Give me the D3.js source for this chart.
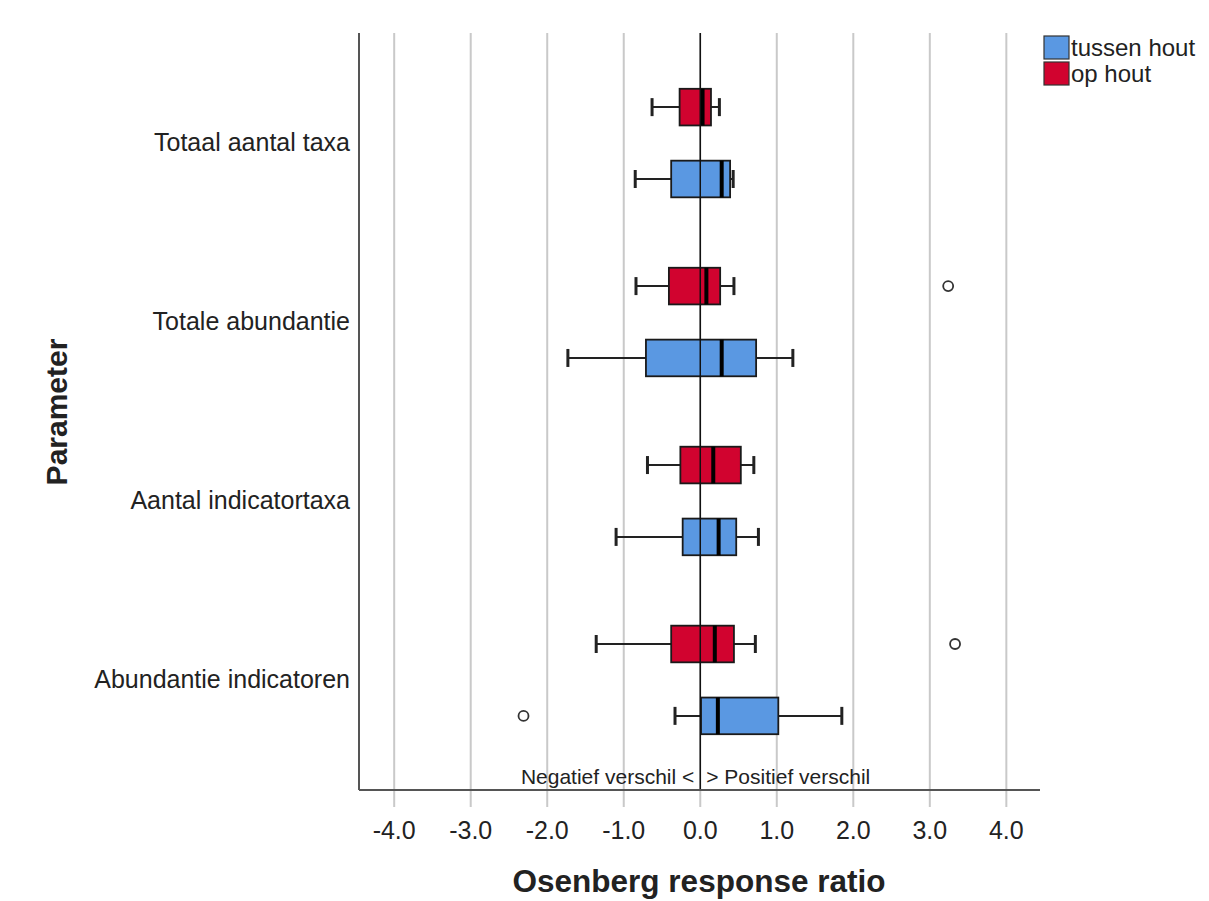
<!DOCTYPE html>
<html>
<head>
    <meta charset="utf-8">
    <title>Osenberg response ratio per parameter</title>
    <script src="https://cdn.jsdelivr.net/npm/d3@7/dist/d3.min.js" charset="utf-8"></script>
    <style>
        body { margin: 0; background: #fff; }
        text { font-family: Arial, "Liberation Sans", sans-serif; fill: #222; }
    </style>
</head>
<body>
<script>
    var w = 1209;
    var h = 901;

    // categories (top to bottom) and groups
    var categories = ["Totaal aantal taxa", "Totale abundantie", "Aantal indicatortaxa", "Abundantie indicatoren"];
    var groups = ["op hout", "tussen hout"];
    var legendGroups = ["tussen hout", "op hout"];
    var colors = {"tussen hout": "#5a98e2", "op hout": "#d1032f"};

    // box statistics
    var opHoutMin    = [-0.63, -0.84, -0.69, -1.36];
    var opHoutQ1     = [-0.27, -0.41, -0.26, -0.38];
    var opHoutMedian = [ 0.03,  0.08,  0.17,  0.19];
    var opHoutQ3     = [ 0.14,  0.26,  0.53,  0.44];
    var opHoutMax    = [ 0.25,  0.44,  0.70,  0.72];

    var tussenMin    = [-0.85, -1.73, -1.10, -0.33];
    var tussenQ1     = [-0.38, -0.71, -0.23,  0.01];
    var tussenMedian = [ 0.28,  0.28,  0.24,  0.23];
    var tussenQ3     = [ 0.39,  0.73,  0.47,  1.02];
    var tussenMax    = [ 0.43,  1.21,  0.76,  1.85];

    // outliers: [category, group, value]
    var outlierCats   = ["Totale abundantie", "Abundantie indicatoren", "Abundantie indicatoren"];
    var outlierGroups = ["op hout", "op hout", "tussen hout"];
    var outlierValues = [3.24, 3.33, -2.31];

    var tickValues = [-4, -3, -2, -1, 0, 1, 2, 3, 4];

    // build rows for drawing
    var boxes = [];
    categories.forEach(function(c, i) {
        boxes.push({cat: c, group: "op hout", min: opHoutMin[i], q1: opHoutQ1[i], med: opHoutMedian[i], q3: opHoutQ3[i], max: opHoutMax[i]});
        boxes.push({cat: c, group: "tussen hout", min: tussenMin[i], q1: tussenQ1[i], med: tussenMedian[i], q3: tussenQ3[i], max: tussenMax[i]});
    });
    var outliers = outlierValues.map(function(v, i) {
        return {cat: outlierCats[i], group: outlierGroups[i], value: v};
    });

    var plotLeft = 359, plotRight = 1040, plotTop = 33, plotBottom = 790;

    var svg = d3.select("body").append("svg")
                .attr("width", w)
                .attr("height", h);

    var x = d3.scaleLinear().domain([-4.46, 4.44]).range([plotLeft, plotRight]);
    var y = d3.scaleBand().domain(categories).range([plotTop, plotBottom]).paddingInner(0).paddingOuter(0.115);
    var y1 = d3.scaleBand().domain(groups).range([0, y.bandwidth()]).padding(0.49);

    // vertical gridlines, running a little below the axis like ticks
    svg.selectAll("line.grid")
        .data(tickValues)
        .enter()
        .append("line")
        .attr("class", "grid")
        .attr("x1", function(d) { return x(d); })
        .attr("x2", function(d) { return x(d); })
        .attr("y1", plotTop)
        .attr("y2", plotBottom + 17)
        .attr("stroke", "#c9c9c9")
        .attr("stroke-width", 2);

    // tick labels
    svg.selectAll("text.tick")
        .data(tickValues)
        .enter()
        .append("text")
        .attr("class", "tick")
        .attr("x", function(d) { return x(d); })
        .attr("y", 839)
        .attr("text-anchor", "middle")
        .attr("font-size", 25)
        .text(function(d) { return d.toFixed(1); });

    // boxes
    var g = svg.selectAll("g.box")
        .data(boxes)
        .enter()
        .append("g")
        .attr("class", "box")
        .attr("transform", function(d) { return "translate(0," + (y(d.cat) + y1(d.group)) + ")"; });

    var bh = y1.bandwidth();

    g.append("line") // whisker
        .attr("x1", function(d) { return x(d.min); })
        .attr("x2", function(d) { return x(d.max); })
        .attr("y1", bh / 2).attr("y2", bh / 2)
        .attr("stroke", "#222").attr("stroke-width", 2);

    g.selectAll("line.cap")
        .data(function(d) { return [d.min, d.max]; })
        .enter()
        .append("line")
        .attr("class", "cap")
        .attr("x1", function(v) { return x(v); })
        .attr("x2", function(v) { return x(v); })
        .attr("y1", bh / 2 - 9).attr("y2", bh / 2 + 9)
        .attr("stroke", "#222").attr("stroke-width", 3);

    g.append("rect")
        .attr("x", function(d) { return x(d.q1); })
        .attr("width", function(d) { return x(d.q3) - x(d.q1); })
        .attr("y", 0)
        .attr("height", bh)
        .attr("fill", function(d) { return colors[d.group]; })
        .attr("stroke", "#1a1a1a")
        .attr("stroke-width", 1.8);

    g.append("line") // median
        .attr("x1", function(d) { return x(d.med); })
        .attr("x2", function(d) { return x(d.med); })
        .attr("y1", 0).attr("y2", bh)
        .attr("stroke", "#000").attr("stroke-width", 4);

    // zero reference line on top of the boxes
    svg.append("line")
        .attr("x1", x(0)).attr("x2", x(0))
        .attr("y1", plotTop).attr("y2", plotBottom)
        .attr("stroke", "#111").attr("stroke-width", 1.5);

    // outliers
    svg.selectAll("circle.outlier")
        .data(outliers)
        .enter()
        .append("circle")
        .attr("class", "outlier")
        .attr("cx", function(d) { return x(d.value); })
        .attr("cy", function(d) { return y(d.cat) + y1(d.group) + bh / 2; })
        .attr("r", 5)
        .attr("fill", "#fff")
        .attr("stroke", "#333")
        .attr("stroke-width", 1.8);

    // axes lines (left and bottom only)
    svg.append("line")
        .attr("x1", plotLeft).attr("x2", plotLeft)
        .attr("y1", plotTop).attr("y2", plotBottom)
        .attr("stroke", "#555").attr("stroke-width", 2);
    svg.append("line")
        .attr("x1", plotLeft).attr("x2", plotRight)
        .attr("y1", plotBottom).attr("y2", plotBottom)
        .attr("stroke", "#555").attr("stroke-width", 2);

    // category labels
    svg.selectAll("text.cat")
        .data(categories)
        .enter()
        .append("text")
        .attr("class", "cat")
        .attr("x", 350)
        .attr("y", function(d) { return y(d) + y.bandwidth() / 2 - 1; })
        .attr("dy", "0.35em")
        .attr("text-anchor", "end")
        .attr("font-size", 25)
        .text(function(d) { return d; });

    // text along the zero line
    svg.append("text")
        .attr("x", x(0) - 6).attr("y", 784)
        .attr("text-anchor", "end")
        .attr("font-size", 21)
        .text("Negatief verschil <");
    svg.append("text")
        .attr("x", x(0) + 6).attr("y", 784)
        .attr("text-anchor", "start")
        .attr("font-size", 21)
        .text("> Positief verschil");

    // axis titles
    svg.append("text")
        .attr("x", 699).attr("y", 892)
        .attr("text-anchor", "middle")
        .attr("font-size", 31.5)
        .attr("font-weight", "bold")
        .text("Osenberg response ratio");
    svg.append("text")
        .attr("transform", "translate(67,412) rotate(-90)")
        .attr("text-anchor", "middle")
        .attr("font-size", 30)
        .attr("font-weight", "bold")
        .text("Parameter");

    // legend
    var legend = svg.selectAll("g.legend")
        .data(legendGroups)
        .enter()
        .append("g")
        .attr("class", "legend")
        .attr("transform", function(d, i) { return "translate(1044," + (36 + i * 26) + ")"; });
    legend.append("rect")
        .attr("width", 25).attr("height", 23)
        .attr("fill", function(d) { return colors[d]; })
        .attr("stroke", "#333").attr("stroke-width", 1.2);
    legend.append("text")
        .attr("x", 27).attr("y", 20)
        .attr("font-size", 24)
        .text(function(d) { return d; });
</script>
</body>
</html>
